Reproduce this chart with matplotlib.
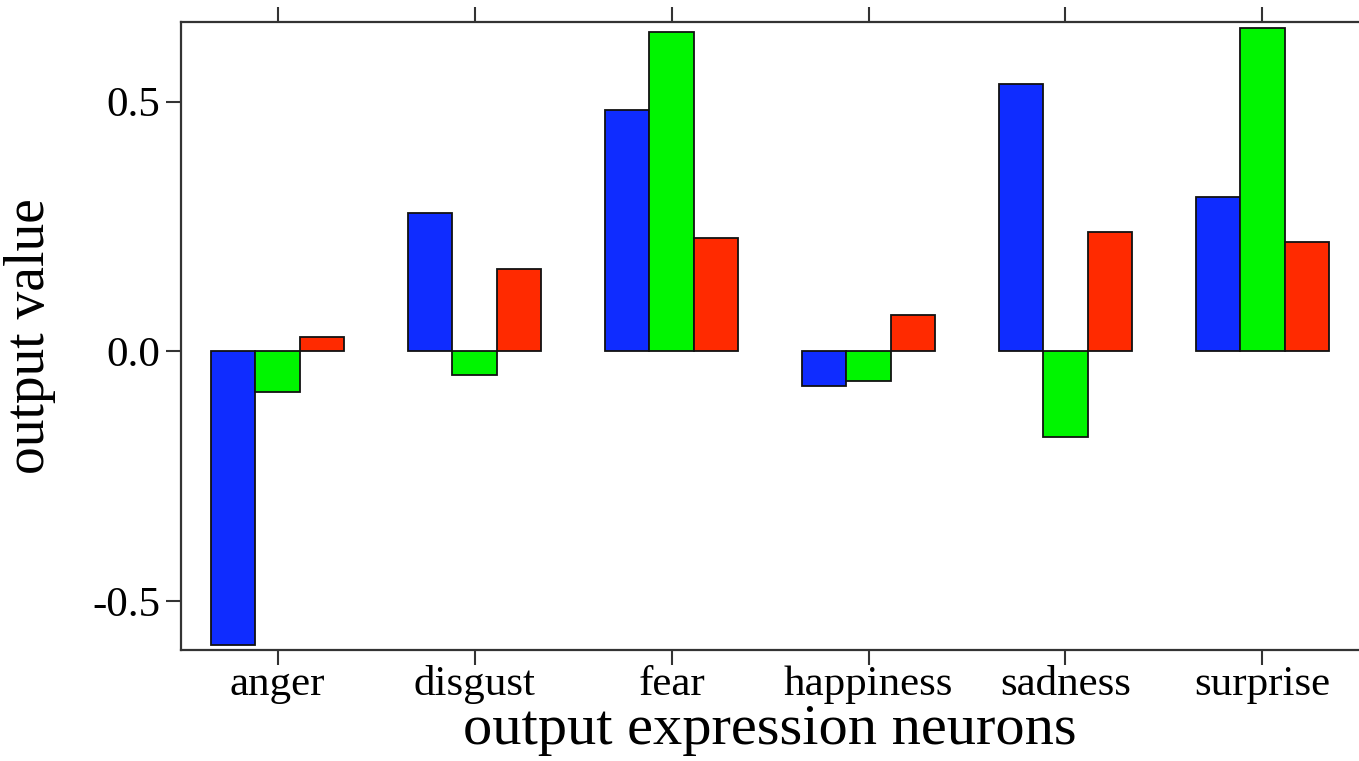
import numpy as np
from matplotlib import pyplot as plt

plt.rcParams['font.family'] = ['Liberation Serif', 'DejaVu Serif']

categories = ['anger', 'disgust', 'fear', 'happiness', 'sadness', 'surprise']
blue_vals = [-0.588, 0.278, 0.484, -0.070, 0.536, 0.310]
green_vals = [-0.082, -0.048, 0.640, -0.060, -0.172, 0.648]
red_vals = [0.028, 0.166, 0.228, 0.072, 0.240, 0.220]

colors = ['#0f2cff', '#00f500', '#ff2a00']
width = 0.225

fig = plt.figure(figsize=(13.59, 7.61), dpi=100)
ax = fig.add_axes([0.1332, 0.146, 0.8668, 0.825])

x = np.arange(len(categories))
for i, (vals, c) in enumerate(zip([blue_vals, green_vals, red_vals], colors)):
    ax.bar(x + (i - 1) * width, vals, width, color=c, edgecolor='#111111', linewidth=1.3, zorder=2)

ax.set_xlim(-0.49, 5.49)
ax.set_ylim(-0.597, 0.659)
ax.set_yticks([-0.5, 0.0, 0.5])
ax.set_yticklabels(['-0.5', '0.0', '0.5'])
ax.set_xticks(x)
ax.set_xticklabels(categories)

for side in ['left', 'top', 'bottom']:
    ax.spines[side].set_linewidth(1.6)
    ax.spines[side].set_color('#333333')
ax.spines['right'].set_visible(False)

ax.tick_params(axis='both', direction='out', length=11, width=1.5, color='#333333',
               labelsize=31, pad=4)
ax.tick_params(axis='x', top=True, labeltop=False, pad=0)

ax.set_xlabel('output expression neurons', fontsize=42, labelpad=0)
ax.set_ylabel('output value', fontsize=40, labelpad=26)

plt.savefig('out.png', dpi=100)
